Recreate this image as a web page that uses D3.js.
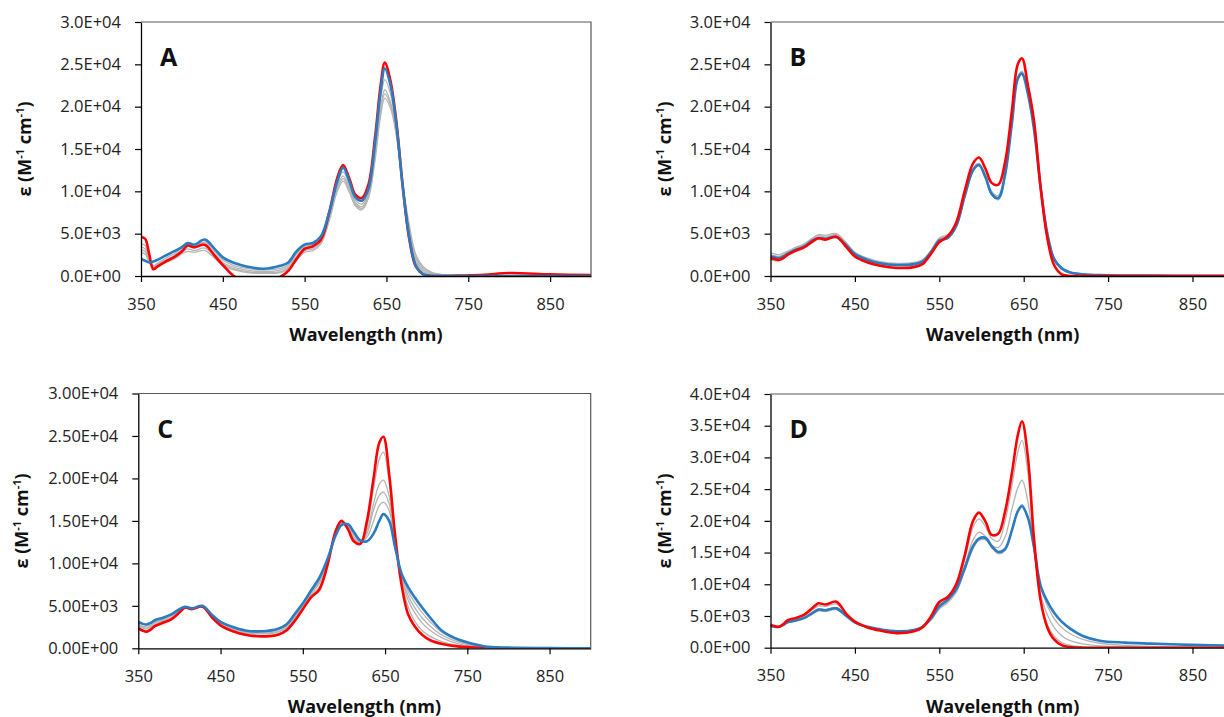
<!DOCTYPE html>
<html>
<head>
<meta charset="utf-8">
<script src="https://cdn.jsdelivr.net/npm/d3@7"></script>
<style>
  body { margin: 0; background: #fff; }
  svg { display: block; font-family: "Open Sans", sans-serif; }
</style>
</head>
<body>
<div id="chart"></div>
<script>
// wavelength grid (nm), shared by every spectrum
const wavelengths = [350,355,360,365,370,380,390,400,407,415,428,440,450,465,480,500,520,530,540,550,560,570,580,590,597,605,612,620,628,636,643,648,655,662,670,678,686,695,705,720,740,770,800,850,900];

// all epsilon values below are in units of 1E+03 M-1 cm-1
// panel A
const aRed  = [4.6,4.4,2.6,0.8,1.1,1.7,2.2,2.9,3.6,3.4,3.7,2.4,1.3,-0.1,-0.4,-0.5,-0.1,0.6,2.0,3.2,3.5,4.3,7.5,11.6,13.1,11.4,9.6,9.2,10.8,16.3,22.6,25.2,23.0,18.3,10.5,4.3,1.1,0.2,0,0,0.05,0.15,0.35,0.2,0.1];
const aBlue = [2.0,1.8,1.6,1.7,1.9,2.4,2.9,3.4,3.9,3.7,4.3,3.2,2.2,1.5,1.1,0.85,1.2,1.6,2.9,3.7,3.9,4.7,7.5,11.2,12.8,11.1,9.3,8.9,10.3,15.7,21.9,24.5,22.5,18.0,10.5,4.5,1.2,0.2,0,0,0,0,0,0,0];
const aGrays = [
  [3.8,3.6,2.2,1.2,1.5,2.1,2.6,3.3,3.8,3.6,4.0,2.9,1.9,1.2,0.9,0.7,0.9,1.3,2.6,3.5,3.7,4.5,7.3,11.0,12.3,10.8,9.0,8.5,9.9,15.1,21.0,23.2,21.5,17.5,10.5,5.0,1.6,0.5,0.15,0.05,0,0,0,0,0],
  [3.4,3.2,2.0,1.1,1.4,1.9,2.4,3.1,3.5,3.3,3.6,2.6,1.6,1.0,0.7,0.5,0.7,1.1,2.3,3.3,3.5,4.3,7.0,10.6,11.8,10.4,8.7,8.2,9.6,14.6,20.0,22.0,20.5,17.0,10.5,5.3,1.9,0.7,0.25,0.08,0,0,0,0,0],
  [3.1,2.9,1.8,1.0,1.3,1.8,2.2,2.8,3.2,3.0,3.3,2.3,1.4,0.8,0.5,0.4,0.5,0.9,2.0,3.0,3.2,4.0,6.8,10.3,11.5,10.1,8.5,8.0,9.4,14.1,19.5,21.5,20.2,16.8,10.6,5.6,2.2,0.9,0.35,0.1,0,0,0,0,0],
  [2.8,2.6,1.6,0.9,1.2,1.6,2.0,2.6,2.9,2.8,3.0,2.1,1.2,0.7,0.4,0.3,0.4,0.8,1.8,2.8,3.0,3.8,6.5,10.0,11.2,9.8,8.3,7.8,9.2,13.6,19.0,21.0,19.8,16.6,10.8,6.0,2.5,1.1,0.45,0.15,0.02,0,0,0,0]
];

// panel B
const bRed  = [2.1,2.0,1.9,2.1,2.5,3.0,3.4,4.1,4.45,4.3,4.65,3.4,2.3,1.6,1.2,0.95,1.05,1.4,2.6,4.0,4.7,6.3,10.0,13.3,14.0,12.6,11.0,10.8,13.5,19.5,25.0,25.7,22.5,18.5,10.5,4.5,1.3,0.2,0,0,0,0,0,0,0];
const bBlue = [2.3,2.2,2.1,2.3,2.6,3.1,3.5,4.2,4.5,4.4,4.6,3.6,2.6,1.9,1.5,1.3,1.4,1.7,2.8,4.2,4.5,5.9,9.4,12.5,13.1,11.6,9.7,9.2,12.0,18.0,23.3,23.9,21.5,17.5,10.5,5.0,2.0,0.9,0.4,0.2,0.1,0.06,0.05,0.03,0.02];
const bGrays = [
  [2.7,2.6,2.5,2.7,2.9,3.4,3.8,4.5,4.9,4.8,5.0,3.9,2.8,2.1,1.7,1.5,1.6,1.9,3.0,4.5,4.9,6.1,9.6,12.7,13.3,11.8,10.0,9.5,12.3,18.2,23.5,24.2,21.8,17.8,10.8,5.2,2.2,1.0,0.5,0.25,0.12,0.08,0.06,0.04,0.03],
  [2.5,2.4,2.3,2.5,2.8,3.3,3.7,4.4,4.8,4.6,4.9,3.8,2.7,2.0,1.6,1.4,1.5,1.8,2.9,4.4,4.7,6.0,9.5,12.6,13.2,11.7,9.9,9.3,12.1,18.1,23.4,24.1,21.7,17.7,10.7,5.1,2.1,0.95,0.45,0.22,0.11,0.07,0.05,0.04,0.03],
  [1.9,1.8,1.8,2.0,2.4,2.9,3.3,4.0,4.4,4.3,4.5,3.5,2.5,1.8,1.4,1.2,1.3,1.6,2.7,4.1,4.4,5.8,9.3,12.4,13.0,11.5,9.6,9.0,11.9,17.9,23.2,23.8,21.4,17.4,10.4,4.9,1.9,0.85,0.38,0.18,0.09,0.05,0.04,0.03,0.02]
];

// panel C
const cRed  = [2.35,2.1,1.95,2.2,2.6,3.0,3.4,4.2,4.8,4.6,4.9,3.6,2.7,2.0,1.6,1.4,1.6,2.1,3.2,4.6,6.0,6.9,9.8,13.8,15.0,14.0,12.6,12.3,15.0,20.0,24.2,24.9,20.5,13.5,7.5,4.0,2.6,1.6,0.95,0.5,0.2,0.05,0,0,0];
const cBlue = [3.1,2.9,2.8,3.0,3.3,3.6,4.0,4.6,4.9,4.7,5.0,3.9,3.1,2.5,2.1,2.0,2.3,2.8,4.0,5.3,6.8,8.3,10.5,13.3,14.5,14.6,13.7,12.7,12.6,13.5,15.0,15.8,15.0,12.0,8.8,7.2,6.0,4.8,3.6,2.0,1.0,0.25,0.08,0.02,0];
const cGrays = [
  [2.5,2.2,2.1,2.4,2.8,3.2,3.6,4.3,4.8,4.6,4.9,3.7,2.8,2.1,1.7,1.5,1.7,2.2,3.3,4.7,6.2,7.2,9.9,13.7,14.9,14.1,12.8,12.3,14.3,18.8,22.3,23.1,19.6,13.2,7.9,4.9,3.2,2.1,1.4,0.75,0.3,0.08,0.02,0,0],
  [2.7,2.4,2.3,2.6,3.0,3.3,3.8,4.4,4.8,4.6,4.9,3.8,2.9,2.2,1.8,1.7,1.9,2.4,3.5,4.9,6.4,7.6,10.1,13.6,14.8,14.3,13.0,12.4,13.8,17.0,19.3,19.8,17.9,12.8,8.2,5.7,4.2,3.0,2.1,1.2,0.5,0.12,0.03,0.01,0],
  [2.8,2.5,2.4,2.7,3.1,3.4,3.9,4.5,4.8,4.7,4.9,3.8,3.0,2.3,1.9,1.8,2.0,2.5,3.6,5.0,6.5,7.8,10.2,13.5,14.7,14.4,13.2,12.5,13.5,16.3,18.0,18.4,17.0,12.6,8.4,6.2,4.8,3.6,2.6,1.5,0.7,0.16,0.04,0.01,0],
  [2.9,2.6,2.6,2.9,3.3,3.5,3.9,4.6,4.9,4.7,5.0,3.9,3.0,2.4,2.0,1.9,2.2,2.7,3.8,5.1,6.6,8.0,10.3,13.4,14.6,14.5,13.5,12.6,13.1,15.0,16.8,17.2,16.2,12.4,8.6,6.7,5.4,4.2,3.1,1.8,0.85,0.2,0.06,0.01,0]
];

// panel D
const dRed  = [3.6,3.4,3.3,3.7,4.3,4.7,5.2,6.3,7.0,6.8,7.25,5.3,4.1,3.2,2.7,2.3,2.6,3.2,4.9,7.2,8.0,10.0,14.5,20.0,21.3,19.8,17.8,18.0,21.5,27.5,33.5,35.7,30.0,17.5,7.5,3.2,1.3,0.4,0.1,0,0,0,0,0,0];
const dBlue = [3.5,3.3,3.3,3.6,4.0,4.3,4.7,5.5,6.0,5.9,6.2,5.0,4.0,3.3,2.9,2.6,2.8,3.3,4.6,6.5,7.6,9.2,12.5,16.0,17.2,17.3,16.0,15.1,15.6,18.5,21.5,22.3,20.5,16.0,9.8,7.3,5.5,4.1,3.0,1.85,1.1,0.8,0.65,0.45,0.3];
const dGrays = [
  [3.6,3.4,3.3,3.7,4.2,4.6,5.1,6.0,6.6,6.5,6.9,5.2,4.0,3.2,2.7,2.3,2.6,3.1,4.6,6.8,7.7,9.6,13.8,19.0,20.3,19.0,17.2,16.8,20.0,25.5,30.8,32.7,27.5,16.5,7.6,3.6,1.8,0.8,0.35,0.12,0.04,0,0,0,0],
  [3.5,3.3,3.3,3.6,4.0,4.4,4.8,5.6,6.1,6.0,6.3,5.0,4.0,3.2,2.8,2.5,2.7,3.2,4.4,6.3,7.3,9.0,12.8,17.0,18.2,17.5,16.2,15.8,17.5,21.8,25.2,26.4,23.0,15.8,8.4,5.2,3.2,1.9,1.1,0.6,0.3,0.12,0.05,0.02,0],
  [3.4,3.2,3.2,3.5,3.9,4.2,4.6,5.3,5.8,5.7,6.0,4.9,3.9,3.2,2.8,2.5,2.7,3.2,4.3,6.1,7.1,8.7,12.1,15.6,16.9,17.0,15.8,14.8,15.3,18.5,21.6,22.6,20.5,15.6,9.5,6.6,4.6,3.2,2.2,1.3,0.7,0.35,0.2,0.1,0.05]
];

const xTicks = [350, 450, 550, 650, 750, 850];
const yTicks30 = [0, 5, 10, 15, 20, 25, 30];
const yTicks40 = [0, 5, 10, 15, 20, 25, 30, 35, 40];

const W = 1224, H = 717;
const svg = d3.select("#chart").append("svg")
  .attr("width", W).attr("height", H);

const panels = [
  { name: "A", red: aRed, blue: aBlue, grays: aGrays, yMax: 30, ticks: yTicks30, digits: 1,
    left: 141, right: 591, top: 22, bottom: 276, redOnTop: false, titleX: 25 },
  { name: "B", red: bRed, blue: bBlue, grays: bGrays, yMax: 30, ticks: yTicks30, digits: 1,
    left: 770.5, right: 1234.7, top: 22, bottom: 276, redOnTop: true, titleX: 665 },
  { name: "C", red: cRed, blue: cBlue, grays: cGrays, yMax: 30, ticks: yTicks30, digits: 2,
    left: 138.3, right: 590.7, top: 393.5, bottom: 648.3, redOnTop: false, titleX: 22 },
  { name: "D", red: dRed, blue: dBlue, grays: dGrays, yMax: 40, ticks: yTicks40, digits: 1,
    left: 770.5, right: 1234.7, top: 394, bottom: 647.7, redOnTop: true, titleX: 665 }
];

// Excel style scientific label, e.g. 2.5E+04
function sci(v, digits) {
  const parts = (v * 1000).toExponential(digits).split("e");
  const e = parseInt(parts[1], 10);
  return parts[0] + "E" + (e < 0 ? "-" : "+") + String(Math.abs(e)).padStart(2, "0");
}

panels.forEach((p, k) => {
  const x = d3.scaleLinear().domain([350, 900]).range([p.left, p.right]);
  const y = d3.scaleLinear().domain([0, p.yMax]).range([p.bottom, p.top]);
  const g = svg.append("g");

  g.append("clipPath").attr("id", "clip" + k)
    .append("rect")
    .attr("x", p.left).attr("y", p.top)
    .attr("width", p.right - p.left).attr("height", p.bottom - p.top);

  // plot area frame (top and right)
  g.append("path")
    .attr("d", `M${p.left},${p.top}H${p.right}V${p.bottom}`)
    .attr("fill", "none")
    .attr("stroke", "#595959")
    .attr("stroke-width", 1.2);

  const line = d3.line()
    .x((d, i) => x(wavelengths[i]))
    .y(d => y(d))
    .curve(d3.curveCatmullRom.alpha(0.5));

  const lines = g.append("g").attr("clip-path", `url(#clip${k})`);

  lines.selectAll("path.gray")
    .data(p.grays)
    .enter().append("path")
    .attr("class", "gray")
    .attr("d", line)
    .attr("fill", "none")
    .attr("stroke", "#b4b4b4")
    .attr("stroke-width", 1.3);

  const order = p.redOnTop
    ? [[p.blue, "#2a7bc0"], [p.red, "#ff0000"]]
    : [[p.red, "#ff0000"], [p.blue, "#2a7bc0"]];
  order.forEach(([vals, col]) => {
    lines.append("path")
      .attr("d", line(vals))
      .attr("fill", "none")
      .attr("stroke", col)
      .attr("stroke-width", 2.6)
      .attr("stroke-linejoin", "round");
  });

  // axes
  const yAxis = g.append("g")
    .attr("transform", `translate(${p.left},0)`)
    .call(d3.axisLeft(y).tickValues(p.ticks).tickSize(6).tickSizeOuter(0).tickPadding(14)
      .tickFormat(d => sci(d, p.digits)));

  const xAxis = g.append("g")
    .attr("transform", `translate(0,${p.bottom})`)
    .call(d3.axisBottom(x).tickValues(xTicks).tickSize(6).tickSizeOuter(0).tickPadding(16)
      .tickFormat(d3.format("d")));

  [yAxis, xAxis].forEach(a => {
    a.select(".domain").attr("stroke", "#000").attr("stroke-width", 1.3);
    a.selectAll(".tick line").attr("stroke", "#000").attr("stroke-width", 1.2);
    a.selectAll(".tick text")
      .attr("fill", "#222")
      .style("font-family", "'Open Sans', sans-serif")
      .style("font-size", "16.5px");
  });

  // panel letter
  g.append("text")
    .attr("x", p.left + 19)
    .attr("y", p.top + 44)
    .style("font-size", "25px")
    .style("font-weight", "bold")
    .attr("fill", "#111")
    .text(p.name);

  // x title
  g.append("text")
    .attr("x", (p.left + p.right) / 2)
    .attr("y", p.bottom + 65)
    .attr("text-anchor", "middle")
    .style("font-size", "18px")
    .style("font-weight", "bold")
    .attr("fill", "#111")
    .text("Wavelength (nm)");

  // y title
  const yt = g.append("text")
    .attr("transform", `translate(${p.titleX + 6},${(p.top + p.bottom) / 2}) rotate(-90)`)
    .attr("text-anchor", "middle")
    .style("font-size", "18px")
    .style("font-weight", "bold")
    .attr("fill", "#111");
  yt.append("tspan").text("\u03b5 (M");
  yt.append("tspan").attr("baseline-shift", "super").style("font-size", "11px").text("-1");
  yt.append("tspan").text(" cm");
  yt.append("tspan").attr("baseline-shift", "super").style("font-size", "11px").text("-1");
  yt.append("tspan").text(")");
});
</script>
</body>
</html>
